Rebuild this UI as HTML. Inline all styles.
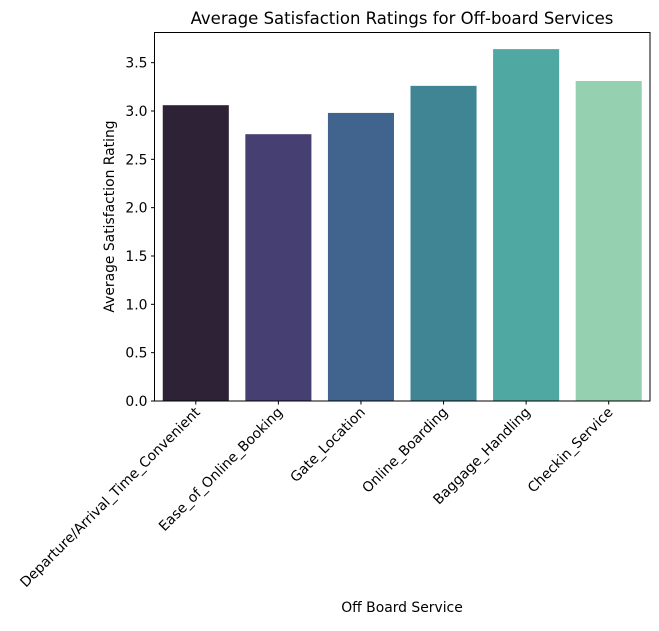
<!DOCTYPE html>
<html><head><meta charset="utf-8"><style>
body{margin:0;background:#fff;font-family:"Liberation Sans","DejaVu Sans",sans-serif;}
svg text{font-family:"DejaVu Sans","Liberation Sans",sans-serif;}
</style></head><body>
<svg id="chart" width="659" height="626" xmlns="http://www.w3.org/2000/svg">
<text x="402" y="24" font-size="16.5" text-anchor="middle" fill="#000">Average Satisfaction Ratings for Off-board Services</text>
<g id="bars"></g>
<g id="yaxis"></g>
<g id="xaxis"></g>
<rect x="154.5" y="32.5" width="495.5" height="368.5" fill="none" stroke="#000" stroke-width="1"/>
<text transform="translate(114,216.5) rotate(-90)" font-size="13.9" text-anchor="middle">Average Satisfaction Rating</text>
<text x="402" y="612" font-size="13.9" text-anchor="middle">Off Board Service</text>
</svg>
<script>
const categories=["Departure/Arrival_Time_Convenient","Ease_of_Online_Booking","Gate_Location","Online_Boarding","Baggage_Handling","Checkin_Service"];
const values=[3.06,2.76,2.98,3.26,3.64,3.31];
const colors=["#2e2236","#463f71","#41648f","#3f8594","#4fa8a2","#95d0b1"];
const yTicks=[0,0.5,1,1.5,2,2.5,3,3.5];
const yTickLabels=["0.0","0.5","1.0","1.5","2.0","2.5","3.0","3.5"];
const NS="http://www.w3.org/2000/svg";
const L=154.5,R=650,B=401,unit=96.67;
const y=v=>B-v*unit;
const band=(R-L)/categories.length;
const xc=i=>L+band*(i+0.5);
const bars=document.getElementById('bars'),ya=document.getElementById('yaxis'),xa=document.getElementById('xaxis');
values.forEach((v,i)=>{
 const r=document.createElementNS(NS,'rect');
 
 
 const w=band*0.8;
 r.setAttribute('x',xc(i)-w/2);r.setAttribute('y',y(v));r.setAttribute('width',w);r.setAttribute('height',B-y(v));
 r.setAttribute('fill',colors[i]);bars.appendChild(r);
});
yTicks.forEach((t,i)=>{
 const l=document.createElementNS(NS,'line');
 
 
 l.setAttribute('x1',L-3.5);l.setAttribute('x2',L);l.setAttribute('y1',y(t));l.setAttribute('y2',y(t));l.setAttribute('stroke','#000');ya.appendChild(l);
 const tx=document.createElementNS(NS,'text');
 
 
 tx.setAttribute('x',L-7);tx.setAttribute('y',y(t)+5);tx.setAttribute('font-size','13.9');tx.setAttribute('text-anchor','end');
 tx.textContent=yTickLabels[i];ya.appendChild(tx);
});
categories.forEach((c,i)=>{
 const l=document.createElementNS(NS,'line');
 
 
 l.setAttribute('x1',xc(i));l.setAttribute('x2',xc(i));l.setAttribute('y1',B);l.setAttribute('y2',B+3.5);l.setAttribute('stroke','#000');xa.appendChild(l);
 const tx=document.createElementNS(NS,'text');
 
 
 tx.setAttribute('transform','translate('+(xc(i)+5)+','+(B+12)+') rotate(-45)');
 tx.setAttribute('font-size','13.9');tx.setAttribute('text-anchor','end');
 tx.textContent=c;xa.appendChild(tx);
});
</script>
</body></html>
